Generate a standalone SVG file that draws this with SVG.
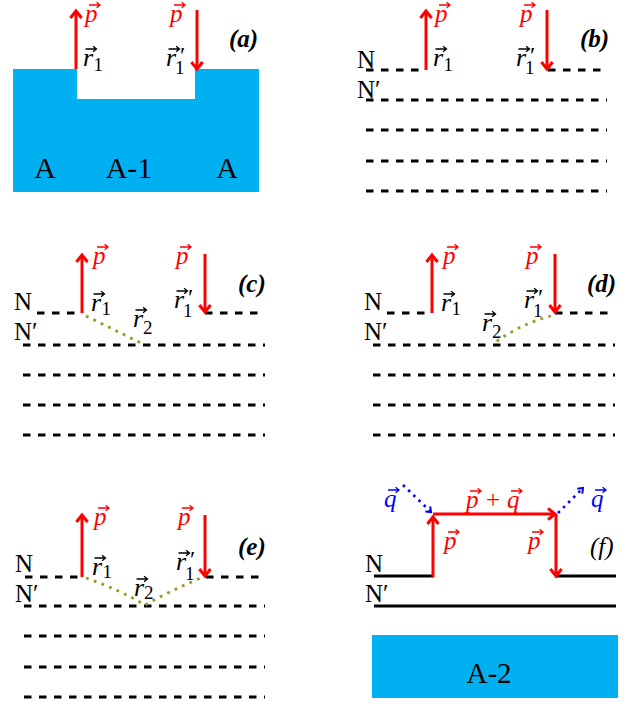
<svg xmlns="http://www.w3.org/2000/svg" width="639" height="702" viewBox="0 0 639 702">
<style>
text{font-family:"Liberation Serif","Times New Roman",serif}
.dash{stroke:#000;stroke-width:3;stroke-dasharray:7.5 7.5;fill:none}
.sol{stroke:#000;stroke-width:3;fill:none}
.arr{stroke:#f00;stroke-width:3;fill:none;marker-end:url(#ah)}
.dot{stroke:#9a9a1c;stroke-width:2.8;stroke-dasharray:2.8 5.4;fill:none}
.bdot{stroke:#00f;stroke-width:2.6;stroke-dasharray:2.6 4.6;fill:none;marker-end:url(#ahb)}
.blue{fill:#00b0f0}
.lbl{font-style:italic;font-weight:bold;font-size:25px}
.lblf{font-style:italic;font-size:25px}
.pv{font-style:italic;font-size:25px;fill:#f00}
.qv{font-style:italic;font-size:25px;fill:#00f}
.rv{font-style:italic;font-size:26px}
.sub{font-size:19px;font-style:normal}
.pr{font-size:24px;font-style:normal}
.N{font-size:25px}
.A{font-size:30px;text-anchor:middle}
.vr{stroke:#f00}.vk{stroke:#000}.vb{stroke:#00f}
</style>
<defs>
<marker id="ah" markerUnits="userSpaceOnUse" markerWidth="24" markerHeight="24" viewBox="-12 -12 24 24" refX="0" refY="0" orient="auto">
<path d="M-7,-5.6 L0,0 L-7,5.6" fill="none" stroke="#f00" stroke-width="3"/>
</marker>
<marker id="ahb" markerUnits="userSpaceOnUse" markerWidth="16" markerHeight="16" viewBox="-8 -8 16 16" refX="0" refY="0" orient="auto">
<path d="M-4.5,-3.5 L0,0 L-4.5,3.5" fill="none" stroke="#00f" stroke-width="2"/>
</marker>
<path id="va" d="M0,0 H11 M7.6,-2.8 L11,0 L7.6,2.8" fill="none" stroke-width="1.3"/>
</defs>

<g id="panel-a">
<path class="blue" d="M13,69 H77 V99 H195 V69 H259 V192 H13 Z"/>
<text class="A" x="45" y="178">A</text>
<text class="A" x="129" y="178">A-1</text>
<text class="A" x="227" y="178">A</text>
<line class="arr" x1="76" y1="69" x2="76" y2="11"/>
<line class="arr" x1="197" y1="10" x2="197" y2="69"/>
<text class="pv" x="85" y="22">p</text><use href="#va" class="vr" x="89" y="5"/>
<text class="pv" x="170" y="22">p</text><use href="#va" class="vr" x="174" y="5"/>
<text class="rv" x="83" y="66">r<tspan class="sub" x="93.5" dy="5">1</tspan></text><use href="#va" class="vk" x="85.5" y="49"/>
<text class="rv" x="166" y="66">r<tspan class="pr" x="180" dy="-3">′</tspan><tspan class="sub" x="175" dy="11">1</tspan></text><use href="#va" class="vk" x="168.5" y="49"/>
<text class="lbl" x="229" y="47">(a)</text>
</g>

<g id="panel-b">
<text class="N" x="357" y="68">N</text>
<text class="N" x="357" y="98">N′</text>
<line class="dash" x1="366" y1="70" x2="426" y2="70"/>
<line class="dash" x1="548" y1="70" x2="607" y2="70"/>
<line class="dash" x1="366" y1="100" x2="607" y2="100"/>
<line class="dash" x1="366" y1="130" x2="607" y2="130"/>
<line class="dash" x1="366" y1="161" x2="607" y2="161"/>
<line class="dash" x1="366" y1="191" x2="607" y2="191"/>
<line class="arr" x1="426" y1="70" x2="426" y2="11"/>
<line class="arr" x1="547" y1="10" x2="547" y2="69"/>
<text class="pv" x="435" y="22">p</text><use href="#va" class="vr" x="439" y="5"/>
<text class="pv" x="520" y="22">p</text><use href="#va" class="vr" x="524" y="5"/>
<text class="rv" x="433" y="66">r<tspan class="sub" x="443.5" dy="5">1</tspan></text><use href="#va" class="vk" x="435.5" y="49"/>
<text class="rv" x="516" y="66">r<tspan class="pr" x="530" dy="-3">′</tspan><tspan class="sub" x="525" dy="11">1</tspan></text><use href="#va" class="vk" x="518.5" y="49"/>
<text class="lbl" x="580" y="47">(b)</text>
</g>

<g id="panel-c">
<text class="N" x="14" y="310">N</text>
<text class="N" x="14" y="340">N′</text>
<line class="dash" x1="37" y1="313" x2="82" y2="313"/>
<line class="dash" x1="205" y1="313" x2="265" y2="313"/>
<line class="dash" x1="23" y1="345" x2="265" y2="345"/>
<line class="dash" x1="23" y1="375" x2="265" y2="375"/>
<line class="dash" x1="23" y1="405" x2="265" y2="405"/>
<line class="dash" x1="23" y1="435" x2="265" y2="435"/>
<path class="dot" d="M86,316 L143,344"/>
<line class="arr" x1="82" y1="313" x2="82" y2="255"/>
<line class="arr" x1="205" y1="254" x2="205" y2="312"/>
<text class="pv" x="93" y="264">p</text><use href="#va" class="vr" x="97" y="247"/>
<text class="pv" x="176" y="264">p</text><use href="#va" class="vr" x="180" y="247"/>
<text class="rv" x="91" y="311">r<tspan class="sub" x="101.5" dy="4">1</tspan></text><use href="#va" class="vk" x="93.5" y="294"/>
<text class="rv" x="174" y="308">r<tspan class="pr" x="188" dy="-3">′</tspan><tspan class="sub" x="183" dy="12">1</tspan></text><use href="#va" class="vk" x="176.5" y="291"/>
<text class="rv" x="133" y="327">r<tspan class="sub" x="143" dy="7">2</tspan></text><use href="#va" class="vk" x="135.5" y="310"/>
<text class="lbl" x="238" y="292">(c)</text>
</g>

<g id="panel-d">
<text class="N" x="364" y="310">N</text>
<text class="N" x="364" y="340">N′</text>
<line class="dash" x1="387" y1="313" x2="432" y2="313"/>
<line class="dash" x1="555" y1="313" x2="615" y2="313"/>
<line class="dash" x1="373" y1="345" x2="615" y2="345"/>
<line class="dash" x1="373" y1="375" x2="615" y2="375"/>
<line class="dash" x1="373" y1="405" x2="615" y2="405"/>
<line class="dash" x1="373" y1="435" x2="615" y2="435"/>
<path class="dot" d="M551,316 Q520,324 493,344"/>
<line class="arr" x1="432" y1="313" x2="432" y2="255"/>
<line class="arr" x1="555" y1="254" x2="555" y2="312"/>
<text class="pv" x="443" y="264">p</text><use href="#va" class="vr" x="447" y="247"/>
<text class="pv" x="526" y="264">p</text><use href="#va" class="vr" x="530" y="247"/>
<text class="rv" x="441" y="311">r<tspan class="sub" x="451.5" dy="4">1</tspan></text><use href="#va" class="vk" x="443.5" y="294"/>
<text class="rv" x="524" y="308">r<tspan class="pr" x="538" dy="-3">′</tspan><tspan class="sub" x="533" dy="12">1</tspan></text><use href="#va" class="vk" x="526.5" y="291"/>
<text class="rv" x="482" y="331">r<tspan class="sub" x="492" dy="7">2</tspan></text><use href="#va" class="vk" x="484.5" y="314"/>
<text class="lbl" x="587" y="292">(d)</text>
</g>

<g id="panel-e">
<text class="N" x="15" y="572">N</text>
<text class="N" x="15" y="602">N′</text>
<line class="dash" x1="25" y1="577" x2="82" y2="577"/>
<line class="dash" x1="206" y1="577" x2="265" y2="577"/>
<line class="dash" x1="24" y1="606" x2="265" y2="606"/>
<line class="dash" x1="24" y1="636" x2="265" y2="636"/>
<line class="dash" x1="24" y1="667" x2="265" y2="667"/>
<line class="dash" x1="24" y1="697" x2="265" y2="697"/>
<path class="dot" d="M86,578 Q120,590 145,605 Q172,590 203,577"/>
<line class="arr" x1="82" y1="577" x2="82" y2="515"/>
<line class="arr" x1="205" y1="515" x2="205" y2="576"/>
<text class="pv" x="94" y="525">p</text><use href="#va" class="vr" x="98" y="508"/>
<text class="pv" x="178" y="525">p</text><use href="#va" class="vr" x="182" y="508"/>
<text class="rv" x="92" y="575">r<tspan class="sub" x="102.5" dy="3">1</tspan></text><use href="#va" class="vk" x="94.5" y="558"/>
<text class="rv" x="176" y="570">r<tspan class="pr" x="190" dy="-3">′</tspan><tspan class="sub" x="185" dy="13">1</tspan></text><use href="#va" class="vk" x="178.5" y="553"/>
<text class="rv" x="134" y="596">r<tspan class="sub" x="144" dy="3">2</tspan></text><use href="#va" class="vk" x="136.5" y="579"/>
<text class="lbl" x="238" y="555">(e)</text>
</g>

<g id="panel-f">
<text class="N" x="365" y="572">N</text>
<text class="N" x="365" y="602">N′</text>
<line class="sol" x1="374" y1="576" x2="434" y2="576"/>
<line class="sol" x1="555" y1="576" x2="616" y2="576"/>
<line class="sol" x1="374" y1="606" x2="616" y2="606"/>
<line class="arr" x1="433" y1="577" x2="433" y2="517"/>
<line class="arr" x1="433" y1="514" x2="555" y2="514"/>
<line class="arr" x1="556" y1="514" x2="556" y2="576"/>
<path class="bdot" d="M403,485 L431,512"/>
<path class="bdot" d="M558,513 L583,488"/>
<text class="pv" x="444" y="549">p</text><use href="#va" class="vr" x="448" y="532"/>
<text class="pv" x="528" y="549">p</text><use href="#va" class="vr" x="532" y="532"/>
<text class="pv" x="466" y="508">p<tspan x="486" style="font-style:normal">+</tspan><tspan x="507">q</tspan></text>
<use href="#va" class="vr" x="470" y="491"/><use href="#va" class="vr" x="511" y="491"/>
<text class="qv" x="384" y="507">q</text><use href="#va" class="vb" x="388" y="490"/>
<text class="qv" x="591" y="507">q</text><use href="#va" class="vb" x="595" y="490"/>
<text class="lblf" x="590" y="555">(f)</text>
<rect class="blue" x="372" y="635" width="246" height="63"/>
<text class="A" x="489" y="683" style="font-size:29px">A-2</text>
</g>
</svg>
